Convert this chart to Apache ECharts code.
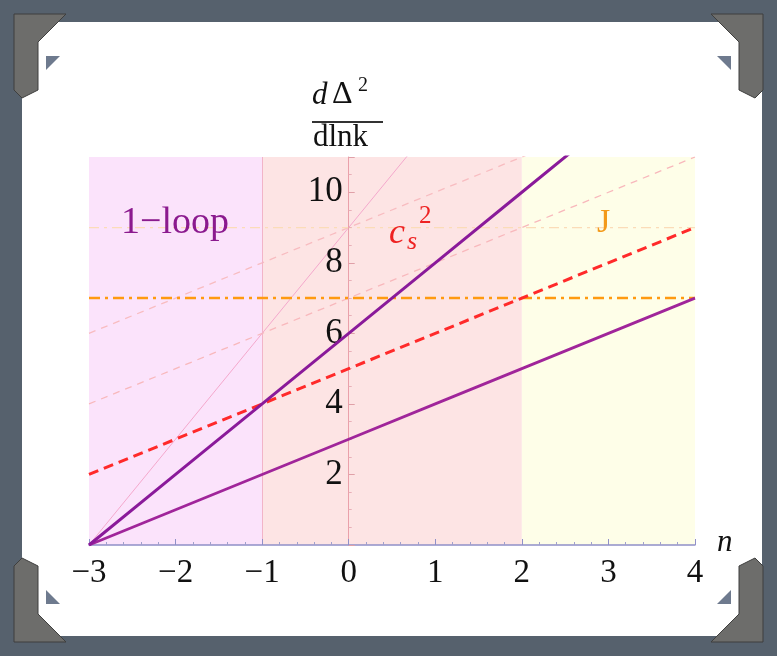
<!DOCTYPE html>
<html>
<head>
<meta charset="utf-8">
<script src="https://cdn.jsdelivr.net/npm/echarts@6/dist/echarts.min.js"></script>
<style>
html,body{margin:0;padding:0;background:#56616d;}
#c{width:777px;height:656px;}
</style>
</head>
<body>
<div id="c"></div>
<script>
// ---- data ----
const nValues = [-3, -2, -1, 0, 1, 2, 3, 4];
const xTicks = ['-3', '-2', '-1', '0', '1', '2', '3', '4'];
const yTicks = [2, 4, 6, 8, 10];
// main curves (values at n = -3..4, clipped at top of plot)
const oneLoopSteep   = [0, 2, 4, 6, 8, 10, 12, 14];   // slope 2
const oneLoopShallow = [0, 1, 2, 3, 4, 5, 6, 7];      // slope 1
const csLine         = [2, 3, 4, 5, 6, 7, 8, 9];      // dashed red
const jLine          = [7, 7, 7, 7, 7, 7, 7, 7];      // orange dash-dot
// faint background curves
const faintSteep  = [0, 3, 6, 9, 12, 15, 18, 21];
const faintCs1    = [4, 5, 6, 7, 8, 9, 10, 11];
const faintCs2    = [6, 7, 8, 9, 10, 11, 12, 13];
const faintJ      = [9, 9, 9, 9, 9, 9, 9, 9];
// regions
const regionBounds = [[-3, -1], [-1, 2], [2, 4]];
const xMin = -3, xMax = 4, yMin = 0, yMax = 11;

const pts = arr => nValues.map((n, i) => [n, arr[i]]);

const chart = echarts.init(document.getElementById('c'), null, {renderer: 'canvas'});
const serif = '"Liberation Serif", "DejaVu Serif", serif';

const regionColors = ['#fbe3fb', '#fde4e4', '#fefee8'];
const gridLeft = 89, gridRight = 82, W = 777;
const plotW = W - gridLeft - gridRight;
const yAxisOffset = -plotW * (0 - xMin) / (xMax - xMin);

const option = {
  backgroundColor: '#56616d',
  animation: false,
  graphic: [
    {type: 'rect', z: -100, shape: {x: 22, y: 22, width: 740, height: 614, r: 4}, style: {fill: '#ffffff'}},
    // corner ornaments
    {type: 'polygon', z: -90, shape: {points: [[14,14],[66,14],[38,42],[38,90],[22,98],[14,90]]}, style: {fill: '#6d6d6b', stroke: '#3f3f3e', lineWidth: 1}},
    {type: 'polygon', z: -90, shape: {points: [[763,14],[711,14],[739,42],[739,90],[755,98],[763,90]]}, style: {fill: '#6d6d6b', stroke: '#3f3f3e', lineWidth: 1}},
    {type: 'polygon', z: -90, shape: {points: [[14,642],[66,642],[38,614],[38,566],[22,558],[14,566]]}, style: {fill: '#6d6d6b', stroke: '#3f3f3e', lineWidth: 1}},
    {type: 'polygon', z: -90, shape: {points: [[763,642],[711,642],[739,614],[739,566],[755,558],[763,566]]}, style: {fill: '#6d6d6b', stroke: '#3f3f3e', lineWidth: 1}},
    {type: 'polygon', z: -90, shape: {points: [[46,56],[60,56],[46,70]]}, style: {fill: '#6e7a8e'}},
    {type: 'polygon', z: -90, shape: {points: [[731,56],[717,56],[731,70]]}, style: {fill: '#6e7a8e'}},
    {type: 'polygon', z: -90, shape: {points: [[46,604],[60,604],[46,590]]}, style: {fill: '#6e7a8e'}},
    {type: 'polygon', z: -90, shape: {points: [[731,604],[717,604],[731,590]]}, style: {fill: '#6e7a8e'}},
    // y axis title: d Δ^2 / dlnk
    {type: 'text', z: 50, left: 312, top: 80, style: {text: 'd', font: 'italic 31px ' + serif, fill: '#111'}},
    {type: 'text', z: 50, left: 332, top: 79, style: {text: '\u0394', font: '32px ' + serif, fill: '#111'}},
    {type: 'text', z: 50, left: 358, top: 76, style: {text: '2', font: '20px ' + serif, fill: '#111'}},
    {type: 'rect', z: 50, shape: {x: 312, y: 121, width: 71, height: 2}, style: {fill: '#333'}},
    {type: 'text', z: 50, left: 313, top: 122, style: {text: 'dlnk', font: '31px ' + serif, fill: '#111'}},
    // region labels
    {type: 'text', z: 50, left: 121, top: 204, style: {text: '1\u2212loop', font: '38px ' + serif, fill: '#8b1a8e'}},
    {type: 'text', z: 50, left: 389, top: 216, style: {text: 'c', font: 'italic 36px ' + serif, fill: '#ee2222'}},
    {type: 'text', z: 50, left: 407, top: 229, style: {text: 's', font: 'italic 26px ' + serif, fill: '#ee2222'}},
    {type: 'text', z: 50, left: 419, top: 204, style: {text: '2', font: '25px ' + serif, fill: '#ee2222'}},
    {type: 'text', z: 50, left: 597, top: 206, style: {text: 'J', font: '34px ' + serif, fill: '#f39a1a'}},
    // n axis label
    {type: 'text', z: 50, left: 717, top: 527, style: {text: 'n', font: 'italic 31px ' + serif, fill: '#111'}}
  ],
  grid: {left: gridLeft, right: gridRight, top: 157, bottom: 111, containLabel: false},
  xAxis: {
    type: 'value', min: xMin, max: xMax, interval: 1, z: 10,
    axisLine: {onZero: true, lineStyle: {color: '#9090c8', width: 1.5}},
    axisTick: {inside: true, length: 6, lineStyle: {color: '#9090c8'}},
    minorTick: {show: true, splitNumber: 5, length: 3, lineStyle: {color: '#a0a0cc'}},
    splitLine: {show: false},
    axisLabel: {
      fontFamily: serif, fontSize: 33, color: '#111', margin: 12,
      formatter: v => { const i = nValues.indexOf(v); return i >= 0 ? xTicks[i].replace('-', '\u2212') : ''; }
    }
  },
  yAxis: {
    type: 'value', min: yMin, max: yMax, interval: 2, z: 10,
    offset: yAxisOffset,
    axisLine: {onZero: false, lineStyle: {color: '#eaa0aa', width: 1}},
    axisTick: {inside: true, length: 6, lineStyle: {color: '#e0a0a8'}},
    minorTick: {show: true, splitNumber: 4, length: 3, lineStyle: {color: '#e8b0b8'}},
    splitLine: {show: false},
    axisLabel: {
      fontFamily: serif, fontSize: 35, color: '#111', margin: 6,
      formatter: v => yTicks.indexOf(v) >= 0 ? String(v) : ''
    }
  },
  series: [
    {
      type: 'line', data: [], silent: true, z: 1,
      markArea: {
        silent: true,
        data: regionBounds.map((b, i) => [
          {xAxis: b[0], yAxis: yMin, itemStyle: {color: regionColors[i]}},
          {xAxis: b[1], yAxis: yMax}
        ])
      }
    },
    {
      type: 'line', data: [], silent: true, z: 1,
      markLine: {
        silent: true, symbol: 'none', label: {show: false},
        lineStyle: {color: '#f2b4c8', width: 1, type: 'solid'},
        data: [{xAxis: -1}]
      }
    },
    {type: 'line', data: pts(faintSteep), symbol: 'none', z: 2, lineStyle: {color: '#f4a8cc', width: 1}},
    {type: 'line', data: pts(faintCs1), symbol: 'none', z: 2, lineStyle: {color: '#f8b8bc', width: 1.3, type: [7, 6]}},
    {type: 'line', data: pts(faintCs2), symbol: 'none', z: 2, lineStyle: {color: '#f8bcc0', width: 1.3, type: [7, 6]}},
    {type: 'line', data: pts(faintJ), symbol: 'none', z: 2, lineStyle: {color: '#fbdcb8', width: 1.2, type: [10, 5, 3, 5]}},
    {type: 'line', data: pts(jLine), symbol: 'none', z: 13, lineStyle: {color: '#ff9a10', width: 2.5, type: [11, 5, 3, 5]}},
    {type: 'line', data: pts(csLine), symbol: 'none', z: 14, lineStyle: {color: '#ff2a2a', width: 3, type: [10, 6]}},
    {type: 'line', data: pts(oneLoopShallow), symbol: 'none', z: 15, lineStyle: {color: '#a0259a', width: 2.8}},
    {type: 'line', data: pts(oneLoopSteep), symbol: 'none', z: 15, lineStyle: {color: '#8a1a9a', width: 3}}
  ]
};
chart.setOption(option);
</script>
</body>
</html>
